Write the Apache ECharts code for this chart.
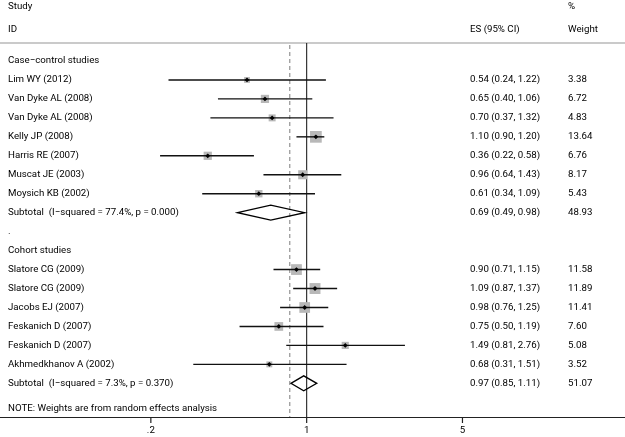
<!DOCTYPE html>
<html><head><meta charset="utf-8">
<script src="https://cdn.jsdelivr.net/npm/echarts@6/dist/echarts.min.js"></script>
<style>html,body{margin:0;padding:0;background:#fff}#c{width:625px;height:437px}</style>
</head><body><div id="c"></div>
<script>
// ---------- data ----------
const studyNames = ['Lim WY (2012)','Van Dyke AL (2008)','Van Dyke AL (2008)','Kelly JP (2008)','Harris RE (2007)','Muscat JE (2003)','Moysich KB (2002)',
  'Slatore CG (2009)','Slatore CG (2009)','Jacobs EJ (2007)','Feskanich D (2007)','Feskanich D (2007)','Akhmedkhanov A (2002)'];
const studyRows = [1,2,3,4,5,6,7, 11,12,13,14,15,16];
const studyES = [0.54,0.65,0.70,1.10,0.36,0.96,0.61, 0.90,1.09,0.98,0.75,1.49,0.68];
const studyLo = [0.24,0.40,0.37,0.90,0.22,0.64,0.34, 0.71,0.87,0.76,0.50,0.81,0.31];
const studyHi = [1.22,1.06,1.32,1.20,0.58,1.43,1.09, 1.15,1.37,1.25,1.19,2.76,1.51];
const studyWeights = [3.38,6.72,4.83,13.64,6.76,8.17,5.43, 11.58,11.89,11.41,7.60,5.08,3.52];

const subtotalLabels = ['Subtotal  (I\u2212squared = 77.4%, p = 0.000)','Subtotal  (I\u2212squared = 7.3%, p = 0.370)'];
const subtotalRows = [8, 17];
const subtotalES = [0.69, 0.97];
const subtotalLo = [0.49, 0.85];
const subtotalHi = [0.98, 1.11];
const subtotalWeights = [48.93, 51.07];

const groupLabels = ['Case\u2212control studies', '.', 'Cohort studies', 'NOTE: Weights are from random effects analysis'];
const groupRows = [0, 9, 10, 18.35];

const headerLabels = ['Study', 'ID', 'ES (95% CI)', '%', 'Weight'];
const headerRows = [-2.85, -1.64, -1.64, -2.85, -1.64];
const headerCols = [0, 0, 1, 2, 2];

const overallES = 0.84;
const nullValue = 1;
const tickValues = [0.2, 1, 5];
const tickLabels = ['.2', '1', '5'];

// ---------- layout ----------
const X_MIN = 0.0421, X_MAX = 26.8;
const Y_MIN = -3.217, Y_MAX = 18.776, Y_RULE = -0.949;
const COL_X = [8, 470, 568];
const FONT = 'Roboto';
const FS = 9.7;
const TXT = '#000';

const fmt = v => v.toFixed(2);
const textEl = (x, y, s, align) => ({type:'text', x:x, y:y, style:{text:s, fill:TXT, font: FS + 'px ' + FONT, textAlign: align || 'left', textVerticalAlign:'middle'}});

const chart = echarts.init(document.getElementById('c'), null, {renderer:'canvas'});

const studyData = studyNames.map((n,i) => [studyRows[i], studyES[i], studyLo[i], studyHi[i], studyWeights[i], i]);
const subData = subtotalLabels.map((n,i) => [subtotalRows[i], subtotalES[i], subtotalLo[i], subtotalHi[i], subtotalWeights[i], i]);

chart.setOption({
  animation: false,
  grid: {left: 0, right: 0, top: 0, bottom: 20},
  xAxis: [{type:'log', logBase:10, min:X_MIN, max:X_MAX, position:'bottom',
    axisLine:{show:true, onZero:false, lineStyle:{color:'#222', width:1.2}}, axisTick:{show:false}, axisLabel:{show:false}, splitLine:{show:false}}],
  yAxis: [{type:'value', inverse:true, min:Y_MIN, max:Y_MAX, show:false, splitLine:{show:false}}],
  series: [
    {type:'line', silent:true, showSymbol:false, data:[[X_MIN, Y_RULE],[X_MAX, Y_RULE]], lineStyle:{color:'#b8b8b8', width:1.5}, z:1},
    {type:'line', silent:true, showSymbol:false, data:[[overallES, Y_RULE+0.1],[overallES, Y_MAX]], lineStyle:{color:'#888', width:1.1, type:[4,3]}, z:2},
    {type:'line', silent:true, showSymbol:false, data:[[nullValue, Y_RULE],[nullValue, Y_MAX]], lineStyle:{color:'#222', width:1.1}, z:2},
    {type:'custom', silent:true, z:3, data: studyData,
      renderItem: (params, api) => {
        const r = api.value(0), e = api.value(1), l = api.value(2), h = api.value(3), w = api.value(4), i = api.value(5);
        const pe = api.coord([e, r]), pl = api.coord([l, r]), ph = api.coord([h, r]);
        const s = 3.17 * Math.sqrt(w);
        const d = 2.4;
        return {type:'group', children:[
          {type:'rect', shape:{x:pe[0]-s/2, y:pe[1]-s/2, width:s, height:s}, style:{fill:'#b8b8b8'}},
          {type:'line', shape:{x1:pl[0], y1:pl[1], x2:ph[0], y2:ph[1]}, style:{stroke:'#111', lineWidth:1.4}},
          {type:'polygon', shape:{points:[[pe[0]-d,pe[1]],[pe[0],pe[1]-d],[pe[0]+d,pe[1]],[pe[0],pe[1]+d]]}, style:{fill:'#000'}},
          textEl(COL_X[0], pe[1], studyNames[i]),
          textEl(COL_X[1], pe[1], fmt(e) + ' (' + fmt(l) + ', ' + fmt(h) + ')'),
          textEl(COL_X[2], pe[1], fmt(w))
        ]};
      }},
    {type:'custom', silent:true, z:4, data: subData,
      renderItem: (params, api) => {
        const r = api.value(0), e = api.value(1), l = api.value(2), h = api.value(3), w = api.value(4), i = api.value(5);
        const pe = api.coord([e, r]), pl = api.coord([l, r]), ph = api.coord([h, r]);
        const hh = 7.5;
        return {type:'group', children:[
          {type:'polygon', shape:{points:[pl,[pe[0],pe[1]-hh],ph,[pe[0],pe[1]+hh]]}, style:{fill:'none', stroke:'#000', lineWidth:1.3}},
          textEl(COL_X[0], pe[1], subtotalLabels[i]),
          textEl(COL_X[1], pe[1], fmt(e) + ' (' + fmt(l) + ', ' + fmt(h) + ')'),
          textEl(COL_X[2], pe[1], fmt(w))
        ]};
      }},
    {type:'custom', silent:true, z:4, data: groupLabels.map((g,i) => [1, groupRows[i], i]),
      renderItem: (params, api) => {
        const p = api.coord([api.value(0), api.value(1)]);
        return textEl(COL_X[0], p[1], groupLabels[api.value(2)]);
      }},
    {type:'custom', silent:true, z:4, data: headerLabels.map((g,i) => [1, headerRows[i], i]),
      renderItem: (params, api) => {
        const i = api.value(2);
        const p = api.coord([api.value(0), api.value(1)]);
        return textEl(COL_X[headerCols[i]], p[1], headerLabels[i]);
      }},
    {type:'custom', silent:true, z:4, data: tickValues.map((t,i) => [t, Y_MAX, i]),
      renderItem: (params, api) => {
        const p = api.coord([api.value(0), api.value(1)]);
        return {type:'group', children:[
          {type:'line', shape:{x1:p[0], y1:p[1], x2:p[0], y2:p[1]+6}, style:{stroke:'#222', lineWidth:1.2}},
          textEl(p[0], p[1]+14, tickLabels[api.value(2)], 'center')
        ]};
      }}
  ]
});
</script>
</body></html>
